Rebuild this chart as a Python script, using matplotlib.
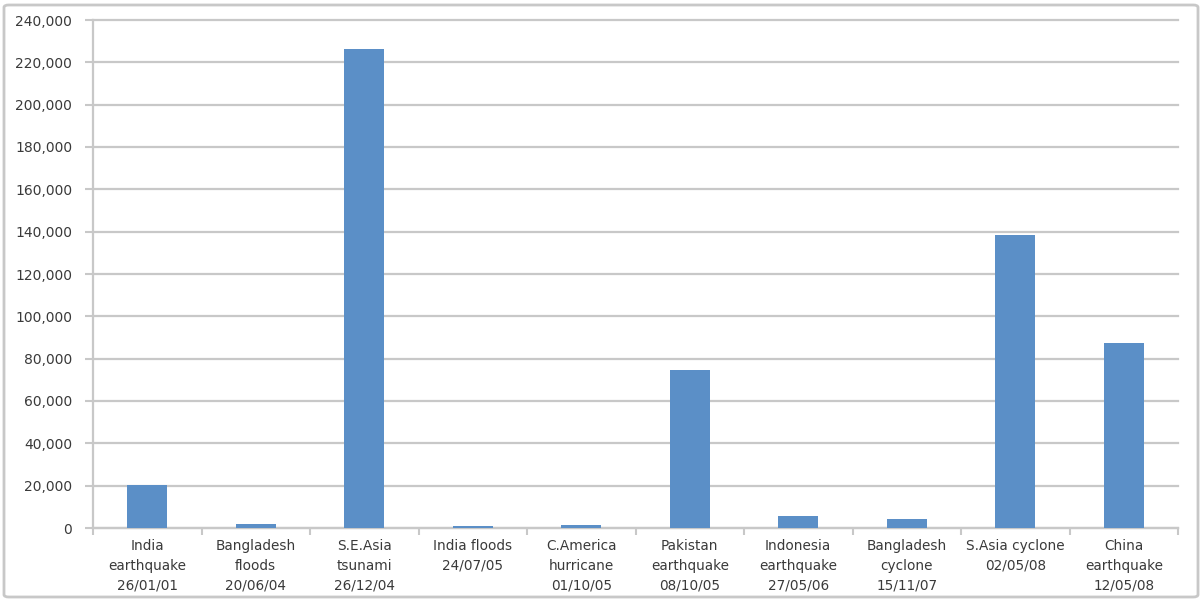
import matplotlib
matplotlib.use("Agg")
import matplotlib.pyplot as plt
from matplotlib.patches import FancyBboxPatch
from matplotlib.ticker import FuncFormatter, MultipleLocator, FixedLocator
import numpy as np

categories = [
    "India\nearthquake\n26/01/01",
    "Bangladesh\nfloods\n20/06/04",
    "S.E.Asia\ntsunami\n26/12/04",
    "India floods\n24/07/05",
    "C.America\nhurricane\n01/10/05",
    "Pakistan\nearthquake\n08/10/05",
    "Indonesia\nearthquake\n27/05/06",
    "Bangladesh\ncyclone\n15/11/07",
    "S.Asia cyclone\n02/05/08",
    "China\nearthquake\n12/05/08",
]
deaths = [20085, 1700, 226408, 1000, 1600, 74600, 5800, 4300, 138366, 87476]

plt.rcParams["font.family"] = ["DejaVu Sans"]

fig = plt.figure(figsize=(12.03, 6.01), dpi=100)
ax = fig.add_axes([93 / 1203, 1 - 528 / 601, (1178 - 93) / 1203, (528 - 20) / 601])

bar_color = "#5b8fc7"
grid_color = "#c8c8c8"
text_color = "#3a3a3a"
x = np.arange(len(categories))
ax.bar(x, deaths, width=0.37, color=bar_color, zorder=3)

ax.set_xlim(-0.5, len(categories) - 0.5)
ax.set_ylim(0, 240000)
ax.yaxis.set_major_locator(MultipleLocator(20000))
ax.yaxis.set_major_formatter(FuncFormatter(lambda v, p: f"{int(v):,}"))
ax.grid(axis="y", color=grid_color, linewidth=1.6, zorder=0)
for gl in ax.get_ygridlines():
    gl.set_clip_on(False)

ax.set_xticks(x)
ax.set_xticklabels(categories, fontsize=9.8, color=text_color, linespacing=1.52)
ax.tick_params(axis="x", which="major", length=0, pad=8)
ax.xaxis.set_minor_locator(FixedLocator(np.arange(-0.5, len(categories), 1.0)))
ax.tick_params(axis="x", which="minor", length=5, color=grid_color, width=1.5)
ax.tick_params(axis="y", length=6, color=grid_color, width=1.5, labelsize=10,
               labelcolor=text_color, pad=9)

for side in ["top", "right"]:
    ax.spines[side].set_visible(False)
ax.spines["left"].set_color(grid_color)
ax.spines["left"].set_linewidth(1.6)
ax.spines["bottom"].set_color(grid_color)
ax.spines["bottom"].set_linewidth(1.6)

border = FancyBboxPatch((4 / 1203, 4 / 601), 1 - 9 / 1203, 1 - 9 / 601,
                        boxstyle="round,pad=0,rounding_size=0.004",
                        transform=fig.transFigure, fill=False,
                        edgecolor="#c8c8c8", linewidth=2)
fig.patches.append(border)

fig.savefig("out.png", dpi=100, facecolor="white")
